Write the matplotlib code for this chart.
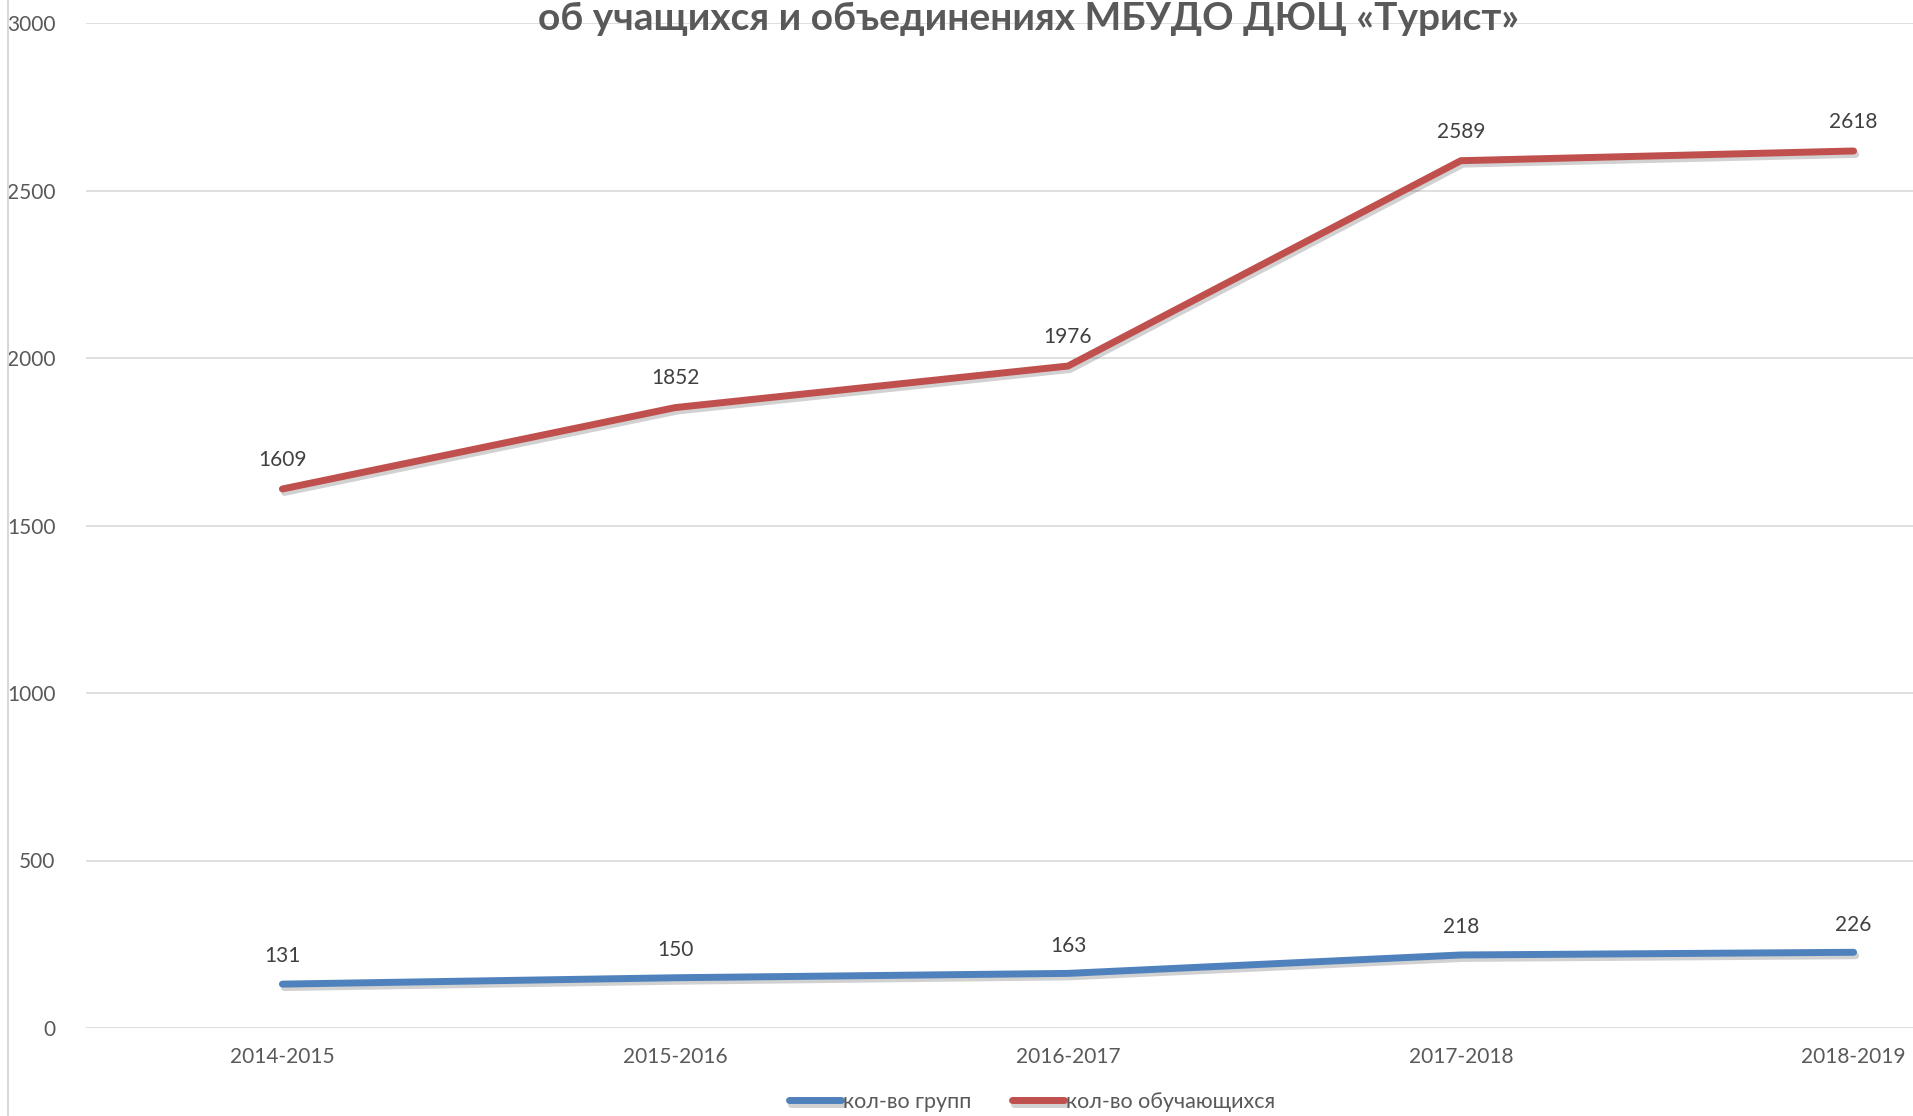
import matplotlib
matplotlib.use('Agg')
import matplotlib.pyplot as plt
import matplotlib.patheffects as pe
from matplotlib.lines import Line2D

years = ['2014-2015', '2015-2016', '2016-2017', '2017-2018', '2018-2019']
groups = [131, 150, 163, 218, 226]
students = [1609, 1852, 1976, 2589, 2618]
yticks = [0, 500, 1000, 1500, 2000, 2500, 3000]

title = 'об учащихся и объединениях МБУДО ДЮЦ «Турист»'
label_groups = 'кол-во групп'
label_students = 'кол-во обучающихся'

blue = '#4F81BD'
red = '#C0504D'

plt.rcParams['font.family'] = ['Lato', 'DejaVu Sans']

fig = plt.figure(figsize=(19.13, 11.16), dpi=100)
# plot area runs past the right edge, like the cropped original
ax = fig.add_axes([86 / 1913, 1 - 1028 / 1116, (2050 - 86) / 1913, (1028 - 23) / 1116])

x = list(range(len(years)))
shadow = [pe.SimpleLineShadow(offset=(1.5, -2.5), shadow_color='#000000', alpha=0.18),
          pe.Normal()]
ax.plot(x, groups, color=blue, lw=5, solid_capstyle='round', path_effects=shadow, zorder=3,
        label=label_groups)
ax.plot(x, students, color=red, lw=5, solid_capstyle='round', path_effects=shadow, zorder=3,
        label=label_students)

for xi, v in zip(x, groups):
    ax.annotate(str(v), (xi, v), xytext=(0, 20), textcoords='offset points',
                ha='center', va='center', fontsize=15, color='#404040')
for xi, v in zip(x, students):
    ax.annotate(str(v), (xi, v), xytext=(0, 21), textcoords='offset points',
                ha='center', va='center', fontsize=15, color='#404040')

ax.set_xlim(-0.5, len(years) - 0.5)
ax.set_ylim(0, 3000)
ax.set_yticks(yticks)
ax.set_xticks(x)
ax.set_xticklabels(years)
ax.grid(axis='y', color='#D9D9D9', lw=1.2)
ax.set_axisbelow(True)
for s in ax.spines.values():
    s.set_visible(False)
ax.tick_params(length=0, labelsize=15, labelcolor='#595959')
ax.tick_params(axis='y', pad=22)
ax.tick_params(axis='x', pad=14)

fig.text(1029 / 1913, 1 - 18 / 1116, title, ha='center', va='center', fontsize=28,
         fontweight='bold', color='#595959')

fig.legend(loc='center', bbox_to_anchor=(1032 / 1913, 1 - 1102 / 1116), ncol=2,
           frameon=False, fontsize=15.5, handlelength=2.4, handletextpad=0.1,
           columnspacing=1.9, labelcolor='#595959')

fig.add_artist(Line2D([8 / 1913, 8 / 1913], [0, 1], color='#D9D9D9', lw=1.5,
                      transform=fig.transFigure))

fig.savefig('out.png', dpi=100)
